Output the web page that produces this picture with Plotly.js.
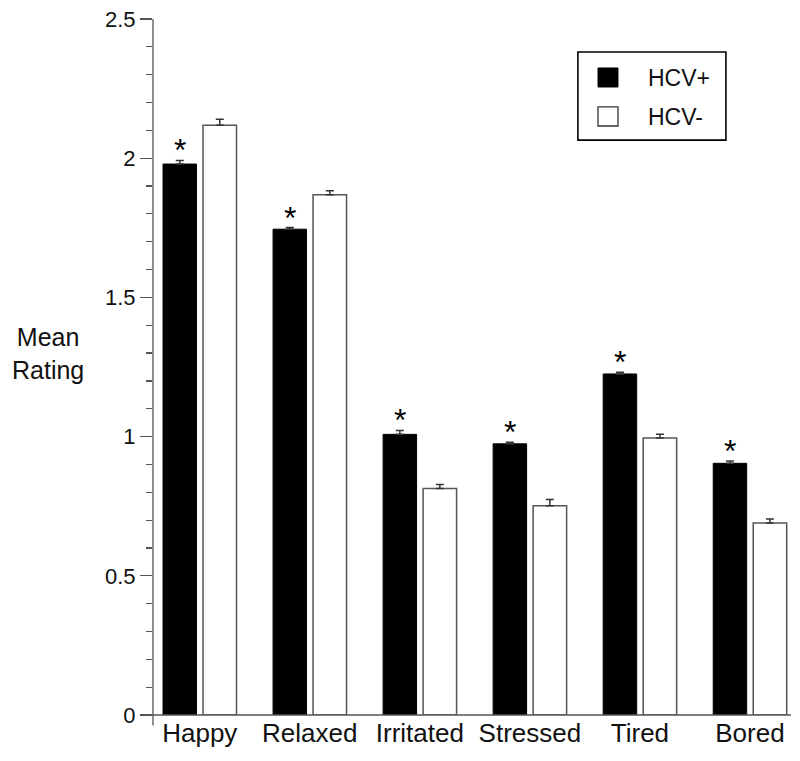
<!DOCTYPE html>
<html><head><meta charset="utf-8">
<script src="https://cdn.plot.ly/plotly-3.0.1.min.js"></script>
<style>body{margin:0;background:#fff}#chart{width:800px;height:761px}</style>
</head><body><div id="chart"></div>
<script>
const categories = ["Happy", "Relaxed", "Irritated", "Stressed", "Tired", "Bored"];
const seriesNames = ["HCV+", "HCV-"];
const hcvPos = [1.979, 1.745, 1.008, 0.974, 1.225, 0.904];
const hcvPosErr = [0.013, 0.006, 0.014, 0.006, 0.006, 0.008];
const hcvNeg = [2.118, 1.869, 0.814, 0.752, 0.995, 0.690];
const hcvNegErr = [0.022, 0.014, 0.014, 0.022, 0.013, 0.014];
const significant = [true, true, true, true, true, true];
const yTickVals = [0, 0.5, 1, 1.5, 2, 2.5];
const yTickText = ["0", "0.5", "1", "1.5", "2", "2.5"];

const FONT = "Liberation Sans, Arial, Helvetica, sans-serif";

const traces = [
  {type: "bar", name: seriesNames[0], x: categories, y: hcvPos,
   marker: {color: "#000", line: {color: "#000", width: 1}},
   error_y: {type: "data", symmetric: false, array: hcvPosErr, arrayminus: hcvPos.map(() => 0),
             color: "#333", thickness: 1.5, width: 4},
   showlegend: false, hoverinfo: "none"},
  {type: "bar", name: seriesNames[1], x: categories, y: hcvNeg,
   marker: {color: "#fff", line: {color: "#555", width: 1.5}},
   error_y: {type: "data", symmetric: false, array: hcvNegErr, arrayminus: hcvNeg.map(() => 0),
             color: "#333", thickness: 1.5, width: 4},
   showlegend: false, hoverinfo: "none"}
];

const annotations = [];
categories.forEach((c, i) => {
  if (significant[i]) {
    annotations.push({x: c, y: hcvPos[i] + hcvPosErr[i], xref: "x", yref: "y",
      text: "*", showarrow: false, xanchor: "center", yanchor: "bottom",
      xshift: -20, yshift: -10, font: {family: FONT, size: 32, color: "#000"}});
  }
});
annotations.push({xref: "paper", yref: "paper", x: -0.165, y: 0.52, text: "Mean<br>Rating",
  showarrow: false, xanchor: "center", yanchor: "middle", align: "center",
  font: {family: FONT, size: 25, color: "#111"}});
// legend text
annotations.push({xref: "paper", yref: "paper", x: 0.772, y: 0.9157, text: seriesNames[0],
  showarrow: false, xanchor: "left", yanchor: "middle", font: {family: FONT, size: 23, color: "#111"}});
annotations.push({xref: "paper", yref: "paper", x: 0.772, y: 0.8596, text: seriesNames[1],
  showarrow: false, xanchor: "left", yanchor: "middle", font: {family: FONT, size: 23, color: "#111"}});

const shapes = [
  // axis lines
  {type: "line", xref: "paper", yref: "paper", x0: -0.018, x1: 1, y0: 0, y1: 0, line: {color: "#555", width: 1.3}},
  {type: "line", xref: "paper", yref: "paper", x0: 0, x1: 0, y0: -0.015, y1: 1, line: {color: "#555", width: 1.3}},
  // legend box and swatches
  {type: "rect", xref: "paper", yref: "paper", x0: 0.666, x1: 0.898, y0: 0.826, y1: 0.9526, line: {color: "#000", width: 1.6}, fillcolor: "rgba(0,0,0,0)"},
  {type: "rect", xref: "paper", yref: "paper", x0: 0.6975, x1: 0.7288, y0: 0.9023, y1: 0.9296, line: {color: "#000", width: 1}, fillcolor: "#000"},
  {type: "rect", xref: "paper", yref: "paper", x0: 0.6975, x1: 0.7288, y0: 0.8463, y1: 0.8736, line: {color: "#333", width: 1.3}, fillcolor: "#fff"}
];

const layout = {
  width: 800, height: 761,
  margin: {l: 153, r: 9, t: 19, b: 46},
  paper_bgcolor: "#fff", plot_bgcolor: "#fff",
  barmode: "group", bargap: 0.273, bargroupgap: 0.163,
  showlegend: false,
  xaxis: {type: "category", range: [-0.425, 5.373], showline: false, ticks: "",
          showgrid: false, zeroline: false, fixedrange: true,
          tickfont: {family: FONT, size: 26, color: "#111"}},
  yaxis: {range: [0, 2.5], tickvals: yTickVals, ticktext: yTickText, ticks: "outside",
          ticklen: 12, tickwidth: 1.3, tickcolor: "#555", showline: false, showgrid: false,
          zeroline: false, fixedrange: true, ticklabelstandoff: 0,
          minor: {dtick: 0.1, tick0: 0, ticks: "outside", ticklen: 6, tickwidth: 1.2, tickcolor: "#555", showgrid: false},
          tickfont: {family: FONT, size: 22, color: "#111"}},
  annotations: annotations,
  shapes: shapes
};

Plotly.newPlot("chart", traces, layout, {displayModeBar: false, staticPlot: true});
</script>
</body></html>
